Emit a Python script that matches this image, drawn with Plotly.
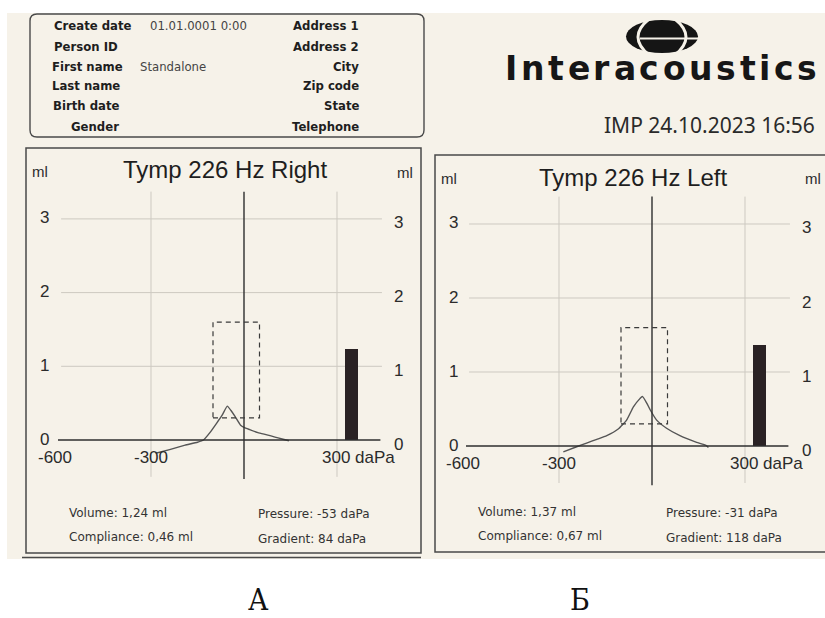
import plotly.graph_objects as go

W, H = 825, 618

# ---------------- data ----------------
pressure_right = [-285, -240, -190, -150, -131, -110, -88, -70, -54, -42, -29, -11, 0, 19, 45, 74, 100, 126, 145]
compliance_right = [-0.18, -0.13, -0.07, -0.03, 0.0, 0.10, 0.23, 0.34, 0.46, 0.40, 0.32, 0.20, 0.17, 0.14, 0.10, 0.07, 0.04, 0.01, -0.01]
pressure_left = [-286, -243, -211, -178, -146, -109, -82, -60, -39, -31, -17, -6, 15, 47, 90, 144, 174, 182]
compliance_left = [-0.08, -0.01, 0.04, 0.09, 0.14, 0.23, 0.35, 0.53, 0.64, 0.67, 0.58, 0.49, 0.35, 0.24, 0.14, 0.05, 0.01, -0.02]

volume_right = 1.24
volume_left = 1.37
volume_bar_pressure = 347
stats_right = {"Volume": "1,24 ml", "Compliance": "0,46 ml", "Pressure": "-53 daPa", "Gradient": "84 daPa"}
stats_left = {"Volume": "1,37 ml", "Compliance": "0,67 ml", "Pressure": "-31 daPa", "Gradient": "118 daPa"}

normal_pressure = [-100, 50]
normal_compliance = [0.3, 1.6]
y_ticks = [0, 1, 2, 3]
x_tick_values = [-600, -300, 300]
x_tick_labels = ["-600", "-300", "300 daPa"]

header_left_labels = ["Create date", "Person ID", "First name", "Last name", "Birth date", "Gender"]
header_values = ["01.01.0001 0:00", "", "Standalone", "", "", ""]
header_right_labels = ["Address 1", "Address 2", "City", "Zip code", "State", "Telephone"]

# ---------------- helpers ----------------
def px(x):
    return x / W

def py(y):
    return 1 - y / H

BG = "#f6f2e9"
FRAME = "#4a4a4a"
GRID = "#cdc9c1"
DARK = "#2e2e2e"
TXT = "#2b2b2b"

def paper_path(points, close=True):
    s = ""
    for cmd, *pts in points:
        s += cmd + " " + " ".join(f"{px(a):.5f},{py(b):.5f}" for a, b in pts) + " "
    if close:
        s += "Z"
    return s

fig = go.Figure()

panels = [
    dict(name="Right", px0=244, py0=440, sx=0.31, sy=73.7, frame=(26, 148, 421, 553),
         p=pressure_right, c=compliance_right, vol=volume_right, stats=stats_right,
         xa="x", ya="y", xk="xaxis", yk="yaxis"),
    dict(name="Left", px0=652, py0=446, sx=0.31, sy=74.0, frame=(435, 155, 826, 552),
         p=pressure_left, c=compliance_left, vol=volume_left, stats=stats_left,
         xa="x2", ya="y2", xk="xaxis2", yk="yaxis2"),
]

shapes = []
annotations = []

def txt(x, y, s, size, anchor="left", bold=False, family="DejaVu Sans", color=TXT):
    return dict(x=px(x), y=py(y), xref="paper", yref="paper", text=s, showarrow=False,
                xanchor=anchor, yanchor="middle",
                font=dict(size=size, family=family, color=color, weight="bold" if bold else "normal"))

# background of the scanned sheet
shapes.append(dict(type="rect", xref="paper", yref="paper", x0=px(7), x1=1, y0=py(559), y1=py(13),
                   fillcolor=BG, line=dict(width=0), layer="below"))

# header rounded box
x0, y0, x1, y1, r = 30, 14, 424, 137, 7
shapes.append(dict(type="path", xref="paper", yref="paper", layer="below",
                   path=paper_path([("M", (x0 + r, y0)), ("L", (x1 - r, y0)), ("Q", (x1, y0), (x1, y0 + r)),
                                    ("L", (x1, y1 - r)), ("Q", (x1, y1), (x1 - r, y1)), ("L", (x0 + r, y1)),
                                    ("Q", (x0, y1), (x0, y1 - r)), ("L", (x0, y0 + r)), ("Q", (x0, y0), (x0 + r, y0))]),
                   line=dict(color=FRAME, width=1.4)))

rows_y = [26, 47, 67, 86, 106, 127]
left_x = [52, 52, 50, 50, 51, 69]
value_x = [148, 148, 138, 138, 138, 138]
for i, lab in enumerate(header_left_labels):
    annotations.append(txt(left_x[i], rows_y[i], lab, 11.7, bold=True, color="#1e1e1e"))
    if header_values[i]:
        annotations.append(txt(value_x[i], rows_y[i], header_values[i], 11.7, color="#444"))
    annotations.append(txt(361, rows_y[i], header_right_labels[i], 11.7, anchor="right", bold=True, color="#1e1e1e"))

# logo mark
shapes.append(dict(type="circle", xref="paper", yref="paper", x0=px(626), x1=px(698), y0=py(53), y1=py(20),
                   fillcolor="#151515", line=dict(width=0)))
shapes.append(dict(type="path", xref="paper", yref="paper",
                   path=paper_path([("M", (649, 19)), ("Q", (627, 37), (649, 55))], close=False),
                   line=dict(color=BG, width=3)))
shapes.append(dict(type="path", xref="paper", yref="paper",
                   path=paper_path([("M", (675, 19)), ("Q", (697, 37), (675, 55))], close=False),
                   line=dict(color=BG, width=3)))
shapes.append(dict(type="line", xref="paper", yref="paper", x0=px(640), x1=px(699), y0=py(38.5), y1=py(38.5),
                   line=dict(color=BG, width=2)))

# logo word with letter spacing
logo_word = "Interacoustics"
glyph_w = {"I": 0.372, "n": 0.712, "t": 0.478, "e": 0.678, "r": 0.493, "a": 0.675, "c": 0.593,
           "o": 0.687, "u": 0.712, "s": 0.595, "i": 0.343}
logo_size = 33
logo_x0, logo_x1 = 505, 817
base_w = sum(glyph_w[ch] * logo_size for ch in logo_word)
track = (logo_x1 - logo_x0 - base_w) / (len(logo_word) - 1)
cx = logo_x0
for ch in logo_word:
    w = glyph_w[ch] * logo_size
    annotations.append(txt(cx + w / 2, 68, ch, logo_size, anchor="center", bold=True, color="#161616"))
    cx += w + track

annotations.append(txt(817, 125, "IMP 24.10.2023 16:56", 21, anchor="right", family="Noto Sans", color="#2a2a2a"))

# line of next box under panel A
shapes.append(dict(type="line", xref="paper", yref="paper", x0=px(22), x1=px(421), y0=py(557.5), y1=py(557.5),
                   line=dict(color=FRAME, width=1.4)))

layout_axes = {}
for pn in panels:
    fx0, fy0, fx1, fy1 = pn["frame"]
    xr = [(fx0 - pn["px0"]) / pn["sx"], (min(fx1, W) - pn["px0"]) / pn["sx"]]
    yr = [(pn["py0"] - fy1) / pn["sy"], (pn["py0"] - fy0) / pn["sy"]]
    common = dict(showgrid=False, zeroline=False, showticklabels=False, showline=False, ticks="", fixedrange=True)
    layout_axes[pn["xk"]] = dict(domain=[px(fx0), px(min(fx1, W))], range=xr, anchor=pn["ya"], **common)
    layout_axes[pn["yk"]] = dict(domain=[py(fy1), py(fy0)], range=yr, anchor=pn["xa"], **common)

    shapes.append(dict(type="rect", xref="paper", yref="paper", x0=px(fx0), x1=px(fx1), y0=py(fy1), y1=py(fy0),
                       line=dict(color=FRAME, width=1.5), layer="below"))
    xa, ya = pn["xa"], pn["ya"]
    for v in y_ticks[1:]:
        shapes.append(dict(type="line", xref=xa, yref=ya, x0=-590, x1=445, y0=v, y1=v,
                           line=dict(color=GRID, width=1), layer="below"))
    for p in [-300, 300]:
        shapes.append(dict(type="line", xref=xa, yref=ya, x0=p, x1=p, y0=-0.5, y1=3.37,
                           line=dict(color=GRID, width=1), layer="below"))
    shapes.append(dict(type="line", xref=xa, yref=ya, x0=-600, x1=440, y0=0, y1=0,
                       line=dict(color=DARK, width=1.5)))
    shapes.append(dict(type="line", xref=xa, yref=ya, x0=0, x1=0, y0=-0.53, y1=3.37,
                       line=dict(color=DARK, width=1.4)))
    shapes.append(dict(type="rect", xref=xa, yref=ya, x0=normal_pressure[0], x1=normal_pressure[1],
                       y0=normal_compliance[0], y1=normal_compliance[1],
                       line=dict(color="#3a3a3a", width=1.2, dash="5px,4px")))

    fig.add_trace(go.Scatter(x=pn["p"], y=pn["c"], mode="lines", xaxis=xa, yaxis=ya,
                             line=dict(color="#555555", width=1.4, shape="spline", smoothing=0.4),
                             showlegend=False, hoverinfo="skip"))
    fig.add_trace(go.Bar(x=[volume_bar_pressure], y=[pn["vol"]], width=[42], xaxis=xa, yaxis=ya,
                         marker=dict(color="#2a2224", line=dict(width=0)), showlegend=False, hoverinfo="skip"))

    lpx = fx0 + 18
    rpx = pn["px0"] + 154
    for v in y_ticks:
        annotations.append(dict(x=px(lpx), y=v, xref="paper", yref=ya, text=str(v), showarrow=False,
                                xanchor="center", yanchor="middle", yshift=1,
                                font=dict(size=17, family="Liberation Sans", color=TXT)))
        annotations.append(dict(x=px(rpx), y=v, xref="paper", yref=ya, text=str(v), showarrow=False,
                                xanchor="center", yanchor="middle", yshift=-4,
                                font=dict(size=17, family="Liberation Sans", color=TXT)))
    xoff = [-3, 0, 0]
    for k, (xv, lab) in enumerate(zip(x_tick_values, x_tick_labels)):
        annotations.append(dict(x=xv, y=0, xref=xa, yref=ya, text=lab, showarrow=False,
                                xanchor="center" if k < 2 else "left", yanchor="middle",
                                xshift=xoff[k] if k < 2 else -17, yshift=-17,
                                font=dict(size=17, family="Liberation Sans", color=TXT)))
    annotations.append(txt(fx0 + 14, fy0 + 23, "ml", 15, anchor="center", family="Liberation Sans"))
    annotations.append(txt(pn["px0"] + 161, fy0 + 24, "ml", 15, anchor="center", family="Liberation Sans"))
    annotations.append(txt(pn["px0"] - 19, fy0 + 22, f"Tymp 226 Hz {pn['name']}", 24, anchor="center",
                           family="Liberation Sans", color="#1e1e1e"))
    st = pn["stats"]
    sx0 = fx0 + 41
    sx1 = pn["px0"] + 12
    annotations.append(txt(sx0, fy1 - 40, f"Volume: {st['Volume']}", 12, color="#333"))
    annotations.append(txt(sx0, fy1 - 16, f"Compliance: {st['Compliance']}", 12, color="#333"))
    annotations.append(txt(sx1, fy1 - 39, f"Pressure: {st['Pressure']}", 12, color="#333"))
    annotations.append(txt(sx1, fy1 - 14, f"Gradient: {st['Gradient']}", 12, color="#333"))

annotations.append(txt(258, 599, "А", 30, anchor="center", family="DejaVu Serif Condensed", color="#111"))
annotations.append(txt(580, 599, "Б", 30, anchor="center", family="DejaVu Serif Condensed", color="#111"))

fig.update_layout(width=W, height=H, margin=dict(l=0, r=0, t=0, b=0),
                  paper_bgcolor="white", plot_bgcolor="rgba(0,0,0,0)",
                  shapes=shapes, annotations=annotations, showlegend=False, bargap=0,
                  **layout_axes)

fig.write_html("out.html", config={"displayModeBar": False, "staticPlot": True},
               post_script="document.body.style.margin='0px';document.body.style.overflow='hidden';")
